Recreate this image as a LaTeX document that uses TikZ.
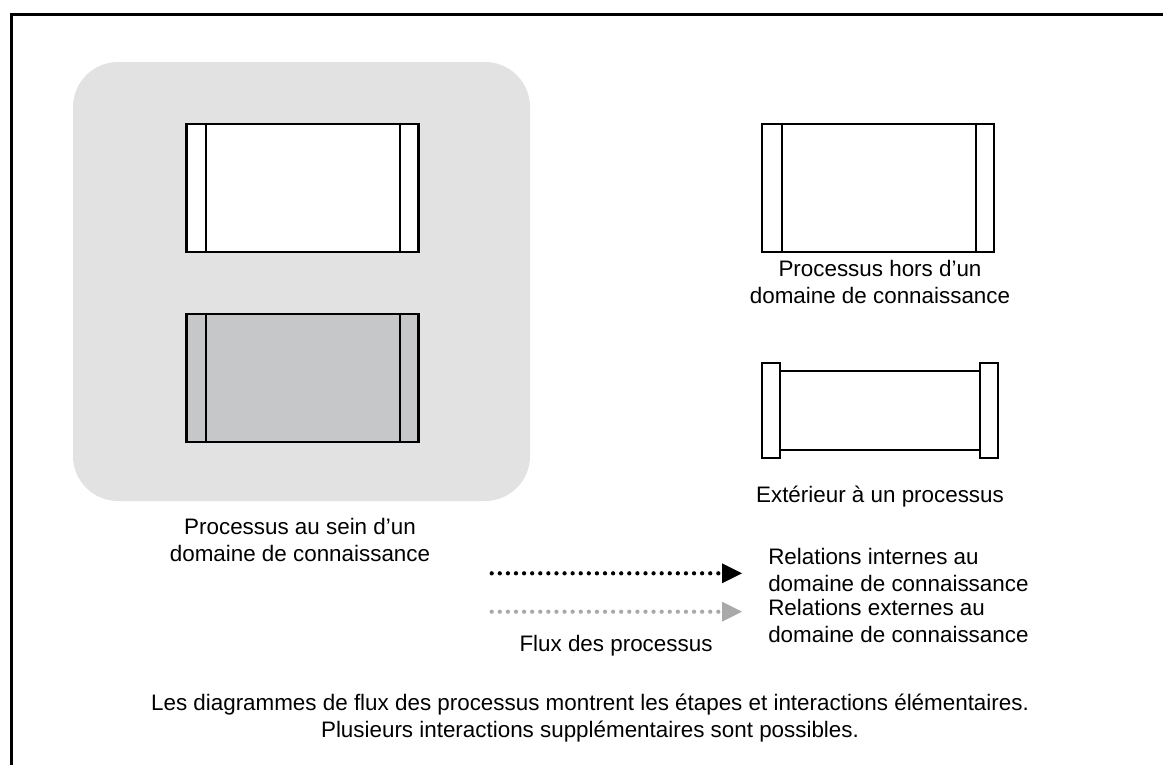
\documentclass[tikz,border=0pt]{standalone}
\usepackage{fontspec}
\setmainfont{Liberation Sans}
\usepackage{tikz}
\definecolor{domaingray}{RGB}{225, 226, 225}
\definecolor{procgray}{RGB}{198, 199, 201}
\definecolor{extgray}{RGB}{169, 169, 169}
\usetikzlibrary{arrows.meta, positioning, calc}

\begin{document}
\begin{tikzpicture}[
    x=0.75pt, y=-0.75pt,
    every node/.style={font=\fontsize{16.8}{20.3}\selectfont},
    procbox/.style={draw, line width=1.6pt, fill=#1, minimum width=174pt, minimum height=96pt, inner sep=0pt},
    procbox/.default=white,
    capbox/.style={draw, line width=1.6pt, fill=white, minimum width=13.7pt, minimum height=71.5pt, inner sep=0pt},
    pipebody/.style={draw, line width=1.6pt, fill=white, minimum width=162pt, minimum height=59pt, inner sep=0pt},
    desc/.style={align=#1, inner sep=0pt},
    desc/.default=center,
    flowline/.style={draw=#1, line width=3.2pt, line cap=round, dash pattern=on 0pt off 6.07pt,
                     -{Triangle[length=15pt, width=15pt, line width=0pt]}}
]
    \useasboundingbox (0,0) rectangle (1163,765);
    \draw[line width=2pt] (11.3,765) -- (11.3,14.7) -- (1163,14.7);

    \node[fill=domaingray, rounded corners=33.75pt, minimum width=342.75pt, minimum height=329.25pt] (domain) at (301.5,281.5) {};

    \node[procbox] (inner) at (302.5,187.7) {};
    \node[procbox=procgray] (innergray) at (302.5,377.7) {};
    \node[procbox] (outer) at (878,187.7) {};
    \foreach \b in {inner, innergray, outer} {
        \draw[line width=1.6pt] ([xshift=15.5pt]\b.north west) -- ([xshift=15.5pt]\b.south west);
        \draw[line width=1.6pt] ([xshift=-14.5pt]\b.north east) -- ([xshift=-14.5pt]\b.south east);
    }

    \node[pipebody] (pipe) at (880,410.3) {};
    \node[capbox] (capleft) at (pipe.west) {};
    \node[capbox] (capright) at (pipe.east) {};

    \node[desc] (domaintext) at (300,540) {Processus au sein d'un\\domaine de connaissance};
    \node[desc] (outertext) at (880,282) {Processus hors d'un\\domaine de connaissance};
    \node[desc] (pipetext) at (880,496.5) {Extérieur à un processus};

    \coordinate (intstart) at (491.7,573.3);
    \coordinate (intend) at (742,573.3);
    \coordinate (extstart) at (491.7,611.7);
    \coordinate (extend) at (742,611.7);
    \draw[flowline=black] (intstart) -- (intend);
    \draw[flowline=extgray] (extstart) -- (extend);

    \node[desc=left, anchor=west] (inttext) at (768,570) {Relations internes au\\domaine de connaissance};
    \node[desc=left, anchor=west] (exttext) at (768,621) {Relations externes au\\domaine de connaissance};
    \node[desc] (fluxtext) at (616,646) {Flux des processus};

    \node[desc] (note) at (590,718.5) {Les diagrammes de flux des processus montrent les étapes et interactions élémentaires.\\Plusieurs interactions supplémentaires sont possibles.};
\end{tikzpicture}
\end{document}
